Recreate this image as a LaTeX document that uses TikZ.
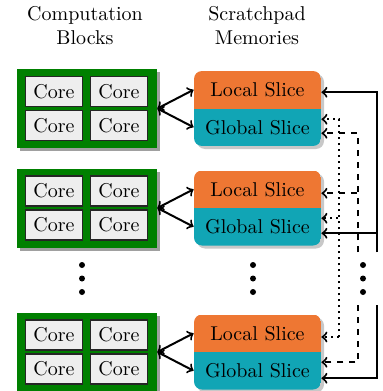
\documentclass[tikz,border=0pt]{standalone}
\usepackage{tikz}
\usepackage{color}
\definecolor{BlockGreen}{HTML}{008000}
\definecolor{LocalSlice}{HTML}{EE7733}
\definecolor{GlobalSlice}{HTML}{11A5B5}
\definecolor{CoreGray}{HTML}{EEEEEE}
\definecolor{BlockShadow}{HTML}{A0A0A0}
\definecolor{MemShadow}{HTML}{C8C8C8}

\begin{document}
\begin{tikzpicture}[x=0.5pt, y=-0.5pt,
    core/.style={draw=black!85, fill=CoreGray, line width=0.6pt,
      minimum width=28.5pt, minimum height=15pt, inner sep=0pt},
    block/.style={fill=BlockGreen, minimum width=70pt,
      minimum height=39.5pt, inner sep=0pt},
    slice/.style={minimum width=63.5pt, minimum height=18.75pt, inner sep=0pt},
    link/.style={line width=1pt, <->},
    bus/.style={line width=1pt, ->}]
  \useasboundingbox (0,0) rectangle (383,391);
  % Titles
  \node[align=center] (comptitle) at (85,26) {Computation\\Blocks};
  \node[align=center] (memtitle) at (257,26) {Scratchpad\\Memories};
  % Rows: block, cores, memory slices
  \foreach \n/\y in {a/108.5, b/208, c/352} {
    \fill[BlockShadow] (20,\y-36.5) rectangle (160,\y+42.5);
    \node[block] (blk\n) at (87,\y) {};
    \node[core] (core\n1) at (54,\y-17) {Core};
    \node[core] (core\n2) at (119,\y-17) {Core};
    \node[core] (core\n3) at (54,\y+17) {Core};
    \node[core] (core\n4) at (119,\y+17) {Core};
    \fill[MemShadow, rounded corners=4pt] (197,\y-34.5) rectangle (324,\y+40.5);
    \begin{scope}
      \clip[rounded corners=4pt] (194,\y-37.5) rectangle (321,\y+37.5);
      \fill[LocalSlice] (194,\y-37.5) rectangle (321,\y);
      \fill[GlobalSlice] (194,\y) rectangle (321,\y+37.5);
    \end{scope}
    \node[slice] (loc\n) at (257.5,\y-18.75) {Local Slice};
    \node[slice] (glob\n) at (257.5,\y+18.75) {Global Slice};
    \draw[link] (blk\n.east) -- (loc\n.west);
    \draw[link] (blk\n.east) -- (glob\n.west);
  }
  % Vertical dots
  \foreach \d in {265,278.5,292} {
    \fill (82,\d) circle (1.5pt);
    \fill (253,\d) circle (1.5pt);
    \fill (363,\d) circle (1.5pt);
  }
  % Bus lines
  \coordinate (solidmid) at (377,252);
  \coordinate (solidlow) at (377,305);
  \coordinate (dashmid) at (358,252);
  \coordinate (dashlow) at (358,305);
  \coordinate (dotlow) at (339,337);
  \draw[bus] (solidmid) |- ([yshift=-1.25pt]loca.east);
  \draw[bus] (solidmid) |- ([yshift=-3.25pt]globb.east);
  \draw[bus] (solidlow) |- ([yshift=-3.75pt]globc.east);
  \draw[bus, dashed] (dashmid) |- ([yshift=-3pt]globa.east);
  \draw[bus, dashed] (dashmid) |- ([yshift=-2pt]locb.east);
  \draw[bus, dashed] (dashlow) |- ([yshift=4.25pt]globc.east);
  \draw[bus, dotted] (dotlow) |- ([yshift=4pt]globa.east);
  \draw[bus, dotted] (dotlow) |- ([yshift=4.25pt]globb.east);
  \draw[bus, dotted] (dotlow) -- (dotlow -| locc.east);
\end{tikzpicture}
\end{document}
